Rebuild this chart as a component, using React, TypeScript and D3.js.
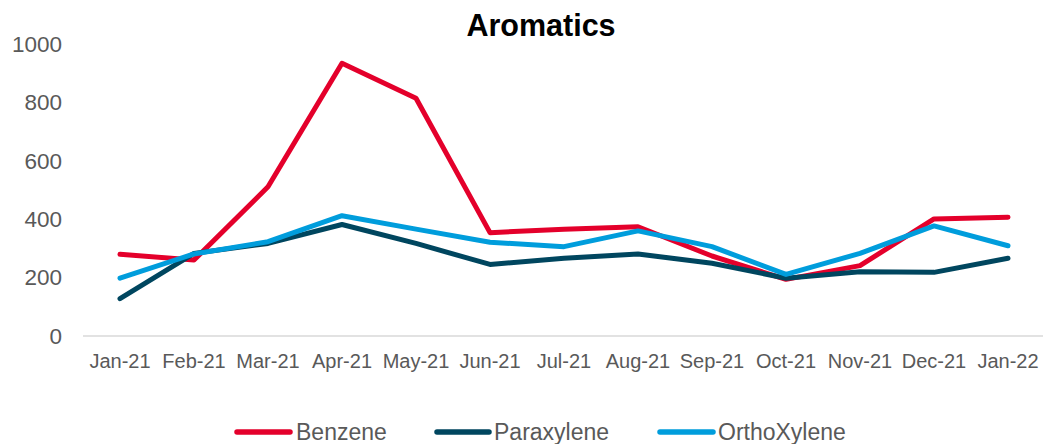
import React from "react";
import * as d3 from "d3";

const categories = ["Jan-21","Feb-21","Mar-21","Apr-21","May-21","Jun-21","Jul-21","Aug-21","Sep-21","Oct-21","Nov-21","Dec-21","Jan-22"];
const benzene = [280, 260, 511, 934, 814, 354, 366, 374, 274, 194, 241, 401, 407];
const paraxylene = [128, 283, 317, 382, 317, 245, 266, 281, 249, 198, 220, 218, 266];
const orthoXylene = [198, 281, 323, 412, 366, 321, 306, 360, 306, 211, 283, 377, 309];
const yTicks = [0, 200, 400, 600, 800, 1000];

const seriesList = [
  { name: "Benzene", values: benzene, color: "#E4002B" },
  { name: "Paraxylene", values: paraxylene, color: "#00465F" },
  { name: "OrthoXylene", values: orthoXylene, color: "#009DDC" },
];

export default function App() {
  const W = 1043, H = 444;
  const x = d3.scaleBand<string>().domain(categories).range([83, 1045]);
  const y = d3.scaleLinear().domain([0, 1000]).range([336, 44]);
  const cx = (c: string) => (x(c) as number) + x.bandwidth() / 2;
  const line = d3.line<number>().x((_, i) => cx(categories[i])).y((v) => y(v));
  const font = "'Liberation Sans', Arial, sans-serif";
  const legendItems = [
    { x1: 237, x2: 290, tx: 296 },
    { x1: 437, x2: 489, tx: 494 },
    { x1: 660, x2: 713, tx: 718 },
  ];
  return (
    <svg width={W} height={H} style={{ position: "absolute", left: 0, top: 0, background: "#fff" }} fontFamily={font}>
      <text x={541} y={36} textAnchor="middle" fontSize={30.5} fontWeight="bold" fill="#000">Aromatics</text>
      {yTicks.map((t) => (
        <text key={t} x={62} y={y(t)} dy="0.35em" textAnchor="end" fontSize={22.5} fill="#595959">{t}</text>
      ))}
      <line x1={83} x2={1043} y1={y(0)} y2={y(0)} stroke="#d9d9d9" strokeWidth={1.5} />
      {categories.map((c) => (
        <text key={c} x={cx(c)} y={368} textAnchor="middle" fontSize={20} fill="#595959">{c}</text>
      ))}
      {seriesList.map((s) => (
        <path key={s.name} d={line(s.values) || ""} fill="none" stroke={s.color} strokeWidth={5} strokeLinejoin="round" strokeLinecap="round" />
      ))}
      {seriesList.map((s, i) => (
        <g key={s.name}>
          <line x1={legendItems[i].x1} x2={legendItems[i].x2} y1={432} y2={432} stroke={s.color} strokeWidth={5.5} strokeLinecap="round" />
          <text x={legendItems[i].tx} y={432} dy="0.35em" fontSize={23} fill="#595959">{s.name}</text>
        </g>
      ))}
    </svg>
  );
}
